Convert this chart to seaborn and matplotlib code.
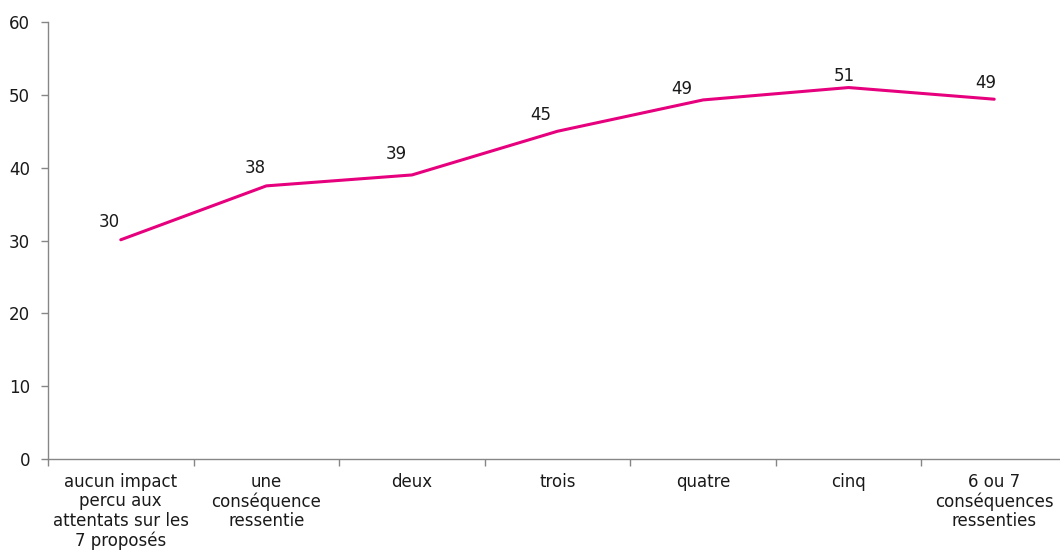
import matplotlib
matplotlib.use("Agg")
import matplotlib.pyplot as plt
import seaborn as sns
import pandas as pd
import numpy as np
from matplotlib.ticker import FixedLocator

# Data
categories = [
    "aucun impact\npercu aux\nattentats sur les\n7 proposés",
    "une\nconséquence\nressentie",
    "deux",
    "trois",
    "quatre",
    "cinq",
    "6 ou 7\nconséquences\nressenties",
]
values = [30.1, 37.5, 39.0, 45.0, 49.3, 51.0, 49.4]
labels = ["30", "38", "39", "45", "49", "51", "49"]
yticks = [0, 10, 20, 30, 40, 50, 60]

# label offsets in points (dx, dy)
label_offsets = [(-8, 13), (-8, 13), (-11, 15), (-12, 12), (-15, 8), (-3, 8), (-6, 12)]

df = pd.DataFrame({"pos": np.arange(len(categories)), "value": values})

sns.set_style("white")
plt.rcParams["font.family"] = ["DejaVu Sans"]

fig = plt.figure(figsize=(10.6, 5.52), dpi=100)
ax = fig.add_axes([48 / 1060, 93 / 552, 1019 / 1060, 437 / 552])

pink = "#E6007E"
sns.lineplot(data=df, x="pos", y="value", color=pink, linewidth=2.2, ax=ax)

for i, (v, lab) in enumerate(zip(values, labels)):
    dx, dy = label_offsets[i]
    ax.annotate(lab, (i, v), xytext=(dx, dy), textcoords="offset points",
                ha="center", va="center", fontsize=12, color="#1a1a1a")

ax.set_xlim(-0.5, len(categories) - 0.5)
ax.set_ylim(0, 60)
ax.set_yticks(yticks)
ax.set_xticks(df["pos"])
ax.set_xticklabels(categories, fontsize=12, color="#1a1a1a", linespacing=1.1)
ax.xaxis.set_minor_locator(FixedLocator(np.arange(-0.5, len(categories), 1.0)))
ax.tick_params(axis="x", which="major", length=0, pad=10)
ax.tick_params(axis="x", which="minor", length=5, width=1, color="#868686", direction="out", bottom=True)
ax.tick_params(axis="y", which="major", length=5, width=1, color="#868686", direction="out", left=True,
               labelsize=12, labelcolor="#1a1a1a", pad=8)
ax.set_xlabel("")
ax.set_ylabel("")

for side in ["top", "right"]:
    ax.spines[side].set_visible(False)
for side in ["left", "bottom"]:
    ax.spines[side].set_color("#868686")
    ax.spines[side].set_linewidth(1)

fig.savefig("out.png", dpi=100)
